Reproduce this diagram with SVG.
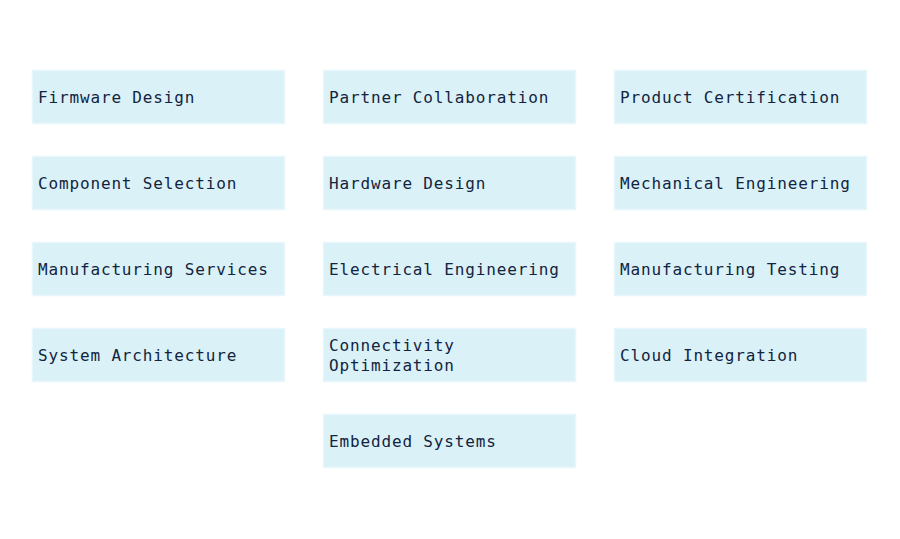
<svg xmlns="http://www.w3.org/2000/svg" width="900" height="539" viewBox="0 0 900 539">
<style>
.box{fill:#daf1f7;stroke:#e8f7fb;stroke-width:1.5}
.lbl{font-family:"DejaVu Sans Mono","Liberation Mono",monospace;font-size:16px;letter-spacing:0.85px;fill:#12243f}
</style>
<rect width="900" height="539" fill="#ffffff"/>
<g id="connectors"></g>
<g id="n1"><rect class="box" x="32.5" y="70.5" width="252" height="53"/><text class="lbl" x="38" y="103">Firmware Design</text></g>
<g id="n2"><rect class="box" x="323.5" y="70.5" width="252" height="53"/><text class="lbl" x="329" y="103">Partner Collaboration</text></g>
<g id="n3"><rect class="box" x="614.5" y="70.5" width="252" height="53"/><text class="lbl" x="620" y="103">Product Certification</text></g>
<g id="n4"><rect class="box" x="32.5" y="156.5" width="252" height="53"/><text class="lbl" x="38" y="189">Component Selection</text></g>
<g id="n5"><rect class="box" x="323.5" y="156.5" width="252" height="53"/><text class="lbl" x="329" y="189">Hardware Design</text></g>
<g id="n6"><rect class="box" x="614.5" y="156.5" width="252" height="53"/><text class="lbl" x="620" y="189">Mechanical Engineering</text></g>
<g id="n7"><rect class="box" x="32.5" y="242.5" width="252" height="53"/><text class="lbl" x="38" y="275">Manufacturing Services</text></g>
<g id="n8"><rect class="box" x="323.5" y="242.5" width="252" height="53"/><text class="lbl" x="329" y="275">Electrical Engineering</text></g>
<g id="n9"><rect class="box" x="614.5" y="242.5" width="252" height="53"/><text class="lbl" x="620" y="275">Manufacturing Testing</text></g>
<g id="n10"><rect class="box" x="32.5" y="328.5" width="252" height="53"/><text class="lbl" x="38" y="361">System Architecture</text></g>
<g id="n11"><rect class="box" x="323.5" y="328.5" width="252" height="53"/><text class="lbl" x="329" y="351">Connectivity</text><text class="lbl" x="329" y="371">Optimization</text></g>
<g id="n12"><rect class="box" x="614.5" y="328.5" width="252" height="53"/><text class="lbl" x="620" y="361">Cloud Integration</text></g>
<g id="n13"><rect class="box" x="323.5" y="414.5" width="252" height="53"/><text class="lbl" x="329" y="447">Embedded Systems</text></g>
</svg>
